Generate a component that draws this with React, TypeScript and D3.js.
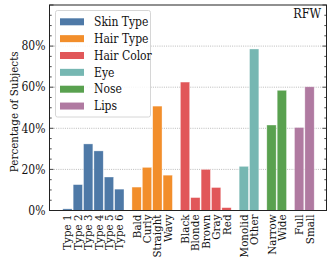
import { useEffect, useRef } from "react";
import * as d3 from "d3";

const groups = ["Skin Type", "Hair Type", "Hair Color", "Eye", "Nose", "Lips"];
const groupColors = ["#4e79a7", "#f28e2b", "#e15759", "#76b7b2", "#59a14f", "#b07aa1"];

const skinLabels = ["Type 1", "Type 2", "Type 3", "Type 4", "Type 5", "Type 6"];
const skinValues = [0.8, 12.6, 32.4, 29.0, 16.3, 10.4];
const hairTypeLabels = ["Bald", "Curly", "Straight", "Wavy"];
const hairTypeValues = [11.4, 21.0, 50.8, 17.2];
const hairColorLabels = ["Black", "Blonde", "Brown", "Gray", "Red"];
const hairColorValues = [62.5, 6.3, 20.0, 11.2, 1.4];
const eyeLabels = ["Monolid", "Other"];
const eyeValues = [21.5, 78.6];
const noseLabels = ["Narrow", "Wide"];
const noseValues = [41.6, 58.5];
const lipsLabels = ["Full", "Small"];
const lipsValues = [40.4, 60.2];

const yTicks = [0, 20, 40, 60, 80];

const W = 332;
const H = 262;
const FONT = "'DejaVu Serif Condensed', 'Liberation Serif', serif";

export default function App() {
  const svgRef = useRef<SVGSVGElement>(null);

  useEffect(() => {
    if (!svgRef.current) return;
    const svg = d3.select(svgRef.current);
    svg.selectAll("*").remove();

    const labelSets = [skinLabels, hairTypeLabels, hairColorLabels, eyeLabels, noseLabels, lipsLabels];
    const valueSets = [skinValues, hairTypeValues, hairColorValues, eyeValues, noseValues, lipsValues];

    // flatten with a 2/3-slot gap between groups
    const bars: { label: string; value: number; g: number; pos: number }[] = [];
    let idx = 0;
    labelSets.forEach((labels, g) => {
      labels.forEach((label, i) => {
        bars.push({ label, value: valueSets[g][i], g, pos: idx + g * (2 / 3) });
        idx++;
      });
    });

    const left = 49.5;
    const right = 326.5;
    const top = 5;
    const bottom = 210.5;

    const x = d3.scaleLinear().domain([-1.73, 24.97]).range([left, right]);
    const y = d3.scaleLinear().domain([0, 100]).range([bottom, top]);
    const bw = x(0.9) - x(0);

    // grid
    svg
      .append("g")
      .selectAll("line")
      .data(yTicks.filter((t) => t > 0))
      .join("line")
      .attr("x1", left)
      .attr("x2", right)
      .attr("y1", (d) => y(d))
      .attr("y2", (d) => y(d))
      .attr("stroke", "#aaa")
      .attr("stroke-width", 0.8)
      .attr("stroke-dasharray", "1,1.2");

    // bars
    svg
      .append("g")
      .selectAll("rect")
      .data(bars)
      .join("rect")
      .attr("x", (d) => x(d.pos) - bw / 2)
      .attr("width", bw)
      .attr("y", (d) => y(d.value))
      .attr("height", (d) => y(0) - y(d.value))
      .attr("fill", (d) => groupColors[d.g])
      .attr("stroke", "#fff")
      .attr("stroke-opacity", 0.6)
      .attr("stroke-width", 0.6);

    // frame
    svg
      .append("rect")
      .attr("x", left)
      .attr("y", top)
      .attr("width", right - left)
      .attr("height", bottom - top)
      .attr("fill", "none")
      .attr("stroke", "#222")
      .attr("stroke-width", 1);

    // ticks (inward, both sides)
    const minor = d3.range(0, 101, 5);
    const tickG = svg.append("g").attr("stroke", "#222").attr("stroke-width", 0.8);
    minor.forEach((t) => {
      const len = t % 20 === 0 ? 4 : 2.2;
      tickG.append("line").attr("x1", left).attr("x2", left + len).attr("y1", y(t)).attr("y2", y(t));
      tickG.append("line").attr("x1", right).attr("x2", right - len).attr("y1", y(t)).attr("y2", y(t));
    });

    // y tick labels
    svg
      .append("g")
      .selectAll("text")
      .data(yTicks)
      .join("text")
      .attr("x", left - 4)
      .attr("y", (d) => y(d))
      .attr("dy", "0.35em")
      .attr("text-anchor", "end")
      .attr("font-family", FONT)
      .attr("font-size", 12)
      .attr("fill", "#111")
      .text((d) => `${d}%`);

    // y axis label
    svg
      .append("text")
      .attr("transform", `translate(14,${(top + bottom) / 2 + 4}) rotate(-90)`)
      .attr("text-anchor", "middle")
      .attr("dy", "0.35em")
      .attr("font-family", FONT)
      .attr("font-size", 11.5)
      .attr("fill", "#111")
      .text("Percentage of Subjects");

    // x tick labels
    svg
      .append("g")
      .selectAll("text")
      .data(bars)
      .join("text")
      .attr("transform", (d) => `translate(${x(d.pos)},${bottom + 4}) rotate(-90)`)
      .attr("text-anchor", "end")
      .attr("dy", "0.35em")
      .attr("font-family", FONT)
      .attr("font-size", 11.5)
      .attr("fill", "#111")
      .text((d) => d.label);

    // RFW
    svg
      .append("text")
      .attr("x", 321)
      .attr("y", 17.5)
      .attr("text-anchor", "end")
      .attr("font-family", FONT)
      .attr("font-size", 12.5)
      .attr("fill", "#111")
      .text("RFW");

    // legend
    const lg = svg.append("g");
    lg.append("rect")
      .attr("x", 55.5)
      .attr("y", 10.5)
      .attr("width", 95)
      .attr("height", 106.5)
      .attr("rx", 2)
      .attr("fill", "#fff")
      .attr("fill-opacity", 0.85)
      .attr("stroke", "#ccc")
      .attr("stroke-width", 0.8);
    groups.forEach((name, i) => {
      const cy = 21.8 + i * 16.85;
      lg.append("rect")
        .attr("x", 60)
        .attr("y", cy - 3.5)
        .attr("width", 24)
        .attr("height", 7)
        .attr("fill", groupColors[i]);
      lg.append("text")
        .attr("x", 94)
        .attr("y", cy)
        .attr("dy", "0.35em")
        .attr("font-family", FONT)
        .attr("font-size", 12)
        .attr("fill", "#111")
        .text(name);
    });
  }, []);

  return (
    <svg
      ref={svgRef}
      width={W}
      height={H}
      style={{ position: "absolute", left: 0, top: 0, background: "#fff" }}
    />
  );
}
